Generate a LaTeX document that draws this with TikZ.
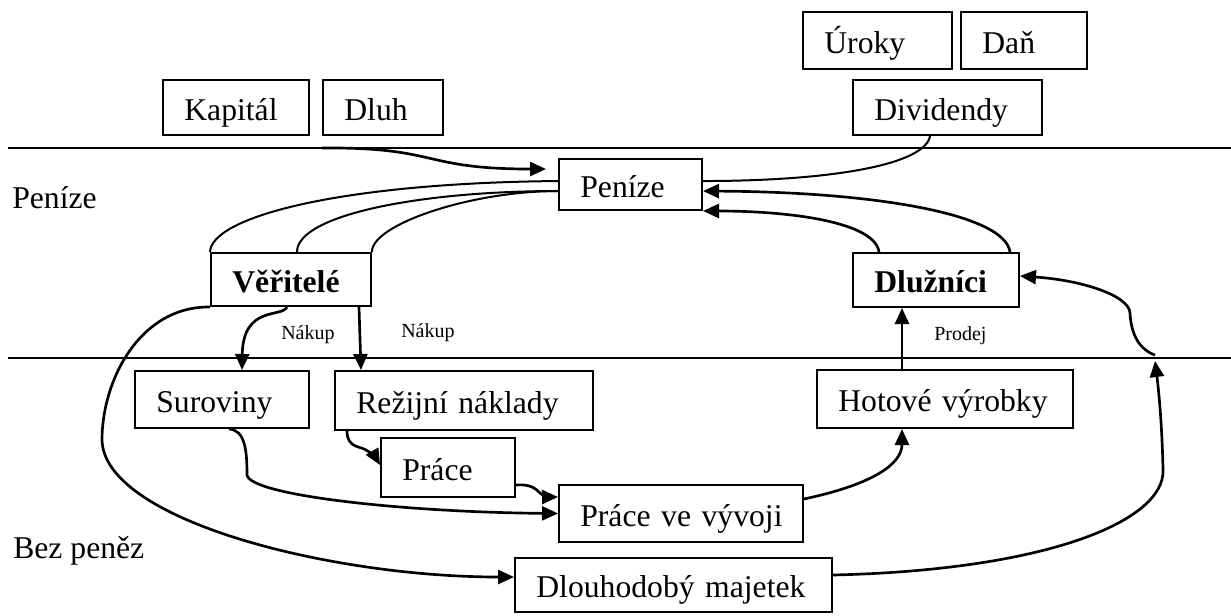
\documentclass[tikz,border=0pt]{standalone}
\usepackage{fontspec}
\setmainfont{Liberation Serif}
\usetikzlibrary{arrows.meta}
\begin{document}
\begin{tikzpicture}[x=0.75pt,y=-0.75pt,
  box/.style={draw, line width=1.5pt, inner xsep=16pt, inner ysep=0pt, align=left,
    text height=19pt, text depth=0pt, font=\fontsize{23.75}{28}\selectfont},
  lbl/.style={inner sep=0pt, font=\fontsize{23.75}{28}\selectfont},
  small/.style={inner sep=0pt, font=\fontsize{15}{18}\selectfont},
  divider/.style={line width=1.5pt},
  link/.style={line width=1.5pt},
  flow/.style={line width=2pt, -{Triangle[length=12pt,width=10.5pt]}}
]
\useasboundingbox (0,0) rectangle (1231,615);

% zone dividers
\draw[divider] (8,148) -- (1231,148);
\draw[divider] (8,358) -- (1231,358);

% zone labels
\node[lbl, anchor=base west] (zmoney) at (12,208) {Peníze};
\node[lbl, anchor=base west] (znomoney) at (13,558) {Bez peněz};

% boxes
\node[box, text width=79.75pt,  minimum height=42.75pt] (uroky)    at (877.5,40.5) {Úroky};
\node[box, text width=62.5pt,   minimum height=42.75pt] (dan)      at (1024,40.5)  {Daň};
\node[box, text width=109.75pt, minimum height=41.25pt] (divid)    at (947.5,107.5) {Dividendy};
\node[box, text width=77.5pt,   minimum height=41.25pt] (kapital)  at (236,107.5)  {Kapitál};
\node[box, text width=58pt,     minimum height=41.25pt] (dluh)     at (383,107.5)  {Dluh};
\node[box, text width=75.25pt,  minimum height=38.25pt] (penize)   at (630.5,184.5) {Peníze};
\node[box, text width=88pt,     minimum height=39.75pt] (veritele) at (291,279.5)  {\bfseries Věřitelé};
\node[box, text width=92.5pt,   minimum height=40.5pt]  (dluznici) at (936,280)    {\bfseries Dlužníci};
\node[box, text width=98.5pt,   minimum height=42.75pt] (suroviny) at (222,399.5)  {Suroviny};
\node[box, text width=161.5pt,  minimum height=44.25pt] (rezijni)  at (464,400.5)  {\mbox{Režijní náklady}};
\node[box, text width=68.5pt,   minimum height=44.25pt] (prace)    at (448,467.5)  {Práce};
\node[box, text width=151pt,    minimum height=42.75pt] (pvv)      at (681,513.5)  {\mbox{Práce ve vývoji}};
\node[box, text width=205.75pt, minimum height=40.5pt]  (dlouho)   at (673.5,585)  {\mbox{Dlouhodobý majetek}};
\node[box, text width=160pt,    minimum height=43.5pt]  (hotove)   at (945,399)    {\mbox{Hotové výrobky}};

% small labels
\node[small, anchor=base west] (nakup1) at (281,339) {Nákup};
\node[small, anchor=base west] (nakup2) at (401,337) {Nákup};
\node[small, anchor=base west] (prodej) at (934,340) {Prodej};

% relay points on the lower divider
\coordinate (relayin)  at (1155,361);
\coordinate (relayout) at (1155,355);

% money in
\draw[flow] ([yshift=-9pt]dluh.south west) .. controls (440,147) and (420,169) .. ([shift={(-9pt,11.6pt)}]penize.west);
\draw[link] ([xshift=-13.1pt]divid.south) .. controls (925,165) and (830,181) .. ([yshift=2.6pt]penize.east);

% money to creditors
\draw[link] ([yshift=2.6pt]penize.west) .. controls (335,183) and (211,218) .. (veritele.north west);
\draw[link] ([yshift=-4.9pt]penize.west) .. controls (420,191) and (297,215) .. ([xshift=4.5pt]veritele.north);
\draw[link] ([yshift=-4.9pt]penize.west) .. controls (470,191) and (371,225) .. (veritele.north east);

% money from debtors
\draw[flow] ([xshift=55.5pt]dluznici.north) .. controls (1005,215) and (880,192) .. ([yshift=-4.9pt]penize.east);
\draw[flow] ([xshift=-42.75pt]dluznici.north) .. controls (875,222) and (790,211) .. (penize.south east);

% purchases
\draw[flow] ([xshift=-3pt]veritele.south) .. controls (282,318) and (243,305) .. ([xshift=15pt]suroviny.north);
\draw[flow] ([xshift=51pt]veritele.south) -- ([xshift=-77.25pt]rezijni.north);
\draw[flow] (veritele.south west) .. controls (140,306) and (102,380) .. (102,440)
  .. controls (104,520) and (330,577) .. ([yshift=6pt]dlouho.west);

% production
\draw[flow] ([xshift=5.25pt]suroviny.south) .. controls (245,430) and (247,450) .. (247,475)
  .. controls (250,495) and (400,512) .. (pvv.west);
\draw[flow] ([xshift=-87.75pt]rezijni.south) .. controls (347,448) and (360,446) .. (366,450)
  .. controls (372,453) and (376,458) .. ([yshift=1.9pt]prace.west);
\draw[flow] ([yshift=-13.1pt]prace.east) .. controls (530,484) and (535,488) .. (540,493)
  .. controls (544,497) and (550,497) .. ([yshift=12.4pt]pvv.west);
\draw[flow] ([yshift=10.9pt]pvv.east) .. controls (870,485) and (902,465) .. ([xshift=-32.25pt]hotove.south);

% sales
\draw[flow] ([xshift=-32.25pt]hotove.north) -- ([xshift=-25.5pt]dluznici.south);

% long-term assets back to debtors
\draw[flow] ([yshift=7.5pt]dlouho.east) .. controls (1050,570) and (1165,520) .. (1163,470)
  .. controls (1162,420) and (1158,385) .. (relayin);
\draw[flow] (relayout) .. controls (1140,350) and (1131,335) .. (1130,313)
  .. controls (1129,295) and (1080,280) .. ([yshift=3pt]dluznici.east);
\end{tikzpicture}
\end{document}
